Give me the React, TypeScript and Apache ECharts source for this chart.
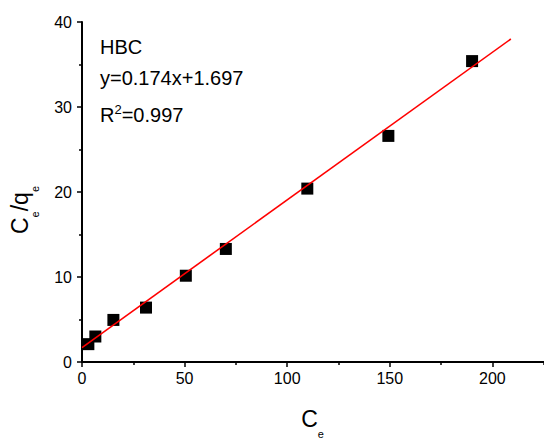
import React, { useEffect, useRef } from "react";
import * as echarts from "echarts";

const ceValues = [3.1, 6.5, 15.3, 31.2, 50.6, 70.1, 109.8, 149.3, 190.1];
const ceQeValues = [2.1, 3.0, 4.95, 6.4, 10.15, 13.3, 20.4, 26.6, 35.4];
const fitX = [0, 209];
const fitY = [1.7, 38.0];
const annotationLines = ["HBC", "y=0.174x+1.697"];
const rSquaredText = "0.997";

const FONT = "'Liberation Sans', Arial, Helvetica, sans-serif";

export default function App() {
  const ref = useRef<HTMLDivElement>(null);
  useEffect(() => {
    if (!ref.current) return;
    const chart = echarts.init(ref.current, null, { renderer: "svg" });
    const scatterData = ceValues.map((x, i) => [x, ceQeValues[i]]);
    const fitData = fitX.map((x, i) => [x, fitY[i]]);
    chart.setOption({
      animation: false,
      backgroundColor: "#ffffff",
      textStyle: { fontFamily: FONT },
      grid: {
        left: 82,
        top: 22,
        bottom: 76,
        right: -51,
        containLabel: false,
        outerBoundsMode: "none",
      },
      xAxis: {
        type: "value",
        min: 0,
        max: 250,
        interval: 50,
        name: "{a|C}{b|e}",
        nameLocation: "middle",
        nameGap: 37,
        nameTextStyle: {
          padding: [0, 52, 0, 0],
          rich: {
            a: { fontSize: 23, lineHeight: 40, fontFamily: FONT, color: "#000" },
            b: { fontSize: 11, lineHeight: 18, verticalAlign: "bottom", fontFamily: FONT, color: "#000" },
          },
        },
        axisLine: { show: true, onZero: false, lineStyle: { color: "#000", width: 2 } },
        axisTick: { show: true, inside: false, length: 5, lineStyle: { color: "#000", width: 1.5 } },
        minorTick: { show: true, splitNumber: 2, length: 3, lineStyle: { color: "#000", width: 1.5 } },
        splitLine: { show: false },
        axisLabel: { color: "#000", fontSize: 16, margin: 8, fontFamily: FONT, showMaxLabel: false },
      },
      yAxis: {
        type: "value",
        min: 0,
        max: 40,
        interval: 10,
        name: "{a|C}{b|e}{a|/q}{b|e}",
        nameLocation: "middle",
        nameGap: 42,
        nameTextStyle: {
          padding: [0, 36, 0, 0],
          rich: {
            a: { fontSize: 23, lineHeight: 40, fontFamily: FONT, color: "#000" },
            b: { fontSize: 11, lineHeight: 12, verticalAlign: "bottom", fontFamily: FONT, color: "#000" },
          },
        },
        axisLine: { show: true, onZero: false, lineStyle: { color: "#000", width: 2 } },
        axisTick: { show: true, inside: false, length: 5, lineStyle: { color: "#000", width: 1.5 } },
        minorTick: { show: true, splitNumber: 2, length: 3, lineStyle: { color: "#000", width: 1.5 } },
        splitLine: { show: false },
        axisLabel: { color: "#000", fontSize: 16, margin: 10, fontFamily: FONT },
      },
      graphic: [
        {
          type: "text",
          x: 100,
          y: 46.5,
          style: { text: annotationLines[0], font: `20px ${FONT}`, fill: "#000", verticalAlign: "middle" },
        },
        {
          type: "text",
          x: 100,
          y: 78.3,
          style: { text: annotationLines[1], font: `20px ${FONT}`, fill: "#000", verticalAlign: "middle" },
        },
        {
          type: "text",
          x: 100,
          y: 115.3,
          style: {
            text: `{a|R}{s|2}{a|=${rSquaredText}}`,
            fill: "#000",
            verticalAlign: "middle",
            rich: {
              a: { fontSize: 20, lineHeight: 24, fontFamily: FONT, fill: "#000" },
              s: { fontSize: 13, lineHeight: 18, verticalAlign: "top", fontFamily: FONT, fill: "#000" },
            },
          },
        },
      ],
      series: [
        {
          type: "scatter",
          data: scatterData,
          symbol: "rect",
          symbolSize: 12,
          itemStyle: { color: "#000", opacity: 1 },
          z: 2,
        },
        {
          type: "line",
          data: fitData,
          showSymbol: false,
          symbol: "none",
          lineStyle: { color: "#ff0000", width: 1.6 },
          z: 3,
        },
      ],
    });
    return () => chart.dispose();
  }, []);
  return (
    <div
      ref={ref}
      style={{ position: "fixed", left: 0, top: 0, width: 544, height: 438, background: "#fff" }}
    />
  );
}
